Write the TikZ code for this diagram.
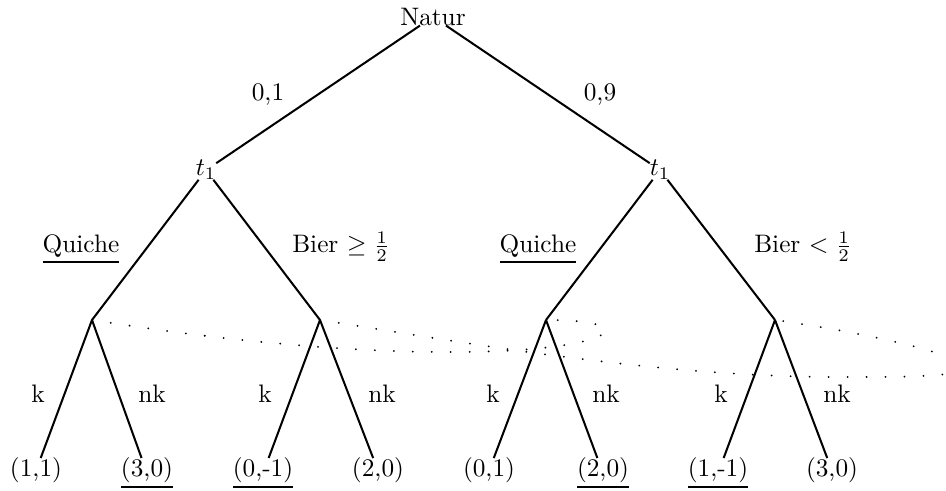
\documentclass[tikz,border=0pt]{standalone}
\newcommand{\thul}[1]{\setbox0=\hbox{#1}\dimen0=\dp0\advance\dimen0 by 2pt\leavevmode\rlap{\rule[-\dimen0]{\wd0}{0.8pt}}\box0}
\begin{document}
\begin{tikzpicture}[x=0.3953pt,y=-0.3953pt,
  every node/.style={inner sep=0pt, outer sep=0pt},
  branch/.style={thick},
  infoset/.style={line width=0.8pt, dash pattern=on 0pt off 7.5pt, line cap=round},
  lab/.style={anchor=base}]
\useasboundingbox (0,0) rectangle (946,491);
% nodes
\node (nat) at (433,16.8) {Natur};
\node[anchor=base] (tA) at (206,176) {$t_1$};
\node[anchor=base] (tB) at (660,176) {$t_1$};
\coordinate (i1) at (92,320);
\coordinate (i2) at (320,320);
\coordinate (i3) at (546,320);
\coordinate (i4) at (775,320);
\node[anchor=base] (l1) at (36,477) {(1,1)};
\node[anchor=base] (l2) at (147,477) {\thul{(3,0)}};
\node[anchor=base] (l3) at (263,477) {\thul{(0,-1)}};
\node[anchor=base] (l4) at (378,477) {(2,0)};
\node[anchor=base] (l5) at (489,477) {(0,1)};
\node[anchor=base] (l6) at (603,477) {\thul{(2,0)}};
\node[anchor=base] (l7) at (718,477) {\thul{(1,-1)}};
\node[anchor=base] (l8) at (832,477) {(3,0)};
% branches
\draw[branch] (nat) -- (tA);
\draw[branch] (nat) -- (tB);
\draw[branch] (tA) -- (i1);
\draw[branch] (tA) -- (i2);
\draw[branch] (tB) -- (i3);
\draw[branch] (tB) -- (i4);
\draw[branch] (i1) -- (l1);
\draw[branch] (i1) -- (l2);
\draw[branch] (i2) -- (l3);
\draw[branch] (i2) -- (l4);
\draw[branch] (i3) -- (l5);
\draw[branch] (i3) -- (l6);
\draw[branch] (i4) -- (l7);
\draw[branch] (i4) -- (l8);
% labels
\node[lab] (p1) at (268,101) {0,1};
\node[lab] (p2) at (600,101) {0,9};
\node[lab] (q1) at (81,253) {\thul{Quiche}};
\node[lab] (b1) at (341,253) {Bier $\geq \frac{1}{2}$};
\node[lab] (q2) at (538,253) {\thul{Quiche}};
\node[lab] (b2) at (803,253) {Bier $< \frac{1}{2}$};
\node[lab] (k1) at (38,403) {k};
\node[lab] (n1) at (152,403) {nk};
\node[lab] (k2) at (265,403) {k};
\node[lab] (n2) at (382,403) {nk};
\node[lab] (k3) at (493,403) {k};
\node[lab] (n3) at (606,403) {nk};
\node[lab] (k4) at (721,403) {k};
\node[lab] (n4) at (837,403) {nk};
% information sets
\coordinate (qm) at (500,351);
\draw[infoset] (i1) .. controls (230,342) and (380,356) .. (qm)
  .. controls (620,346) and (640,320) .. (i3);
\coordinate (bm) at (840,377);
\coordinate (be) at (962,366);
\draw[infoset] (i2) .. controls (450,340) and (650,377) .. (bm)
  .. controls (930,377) and (962,376) .. (be)
  .. controls (962,356) and (880,335) .. (i4);
\end{tikzpicture}
\end{document}
